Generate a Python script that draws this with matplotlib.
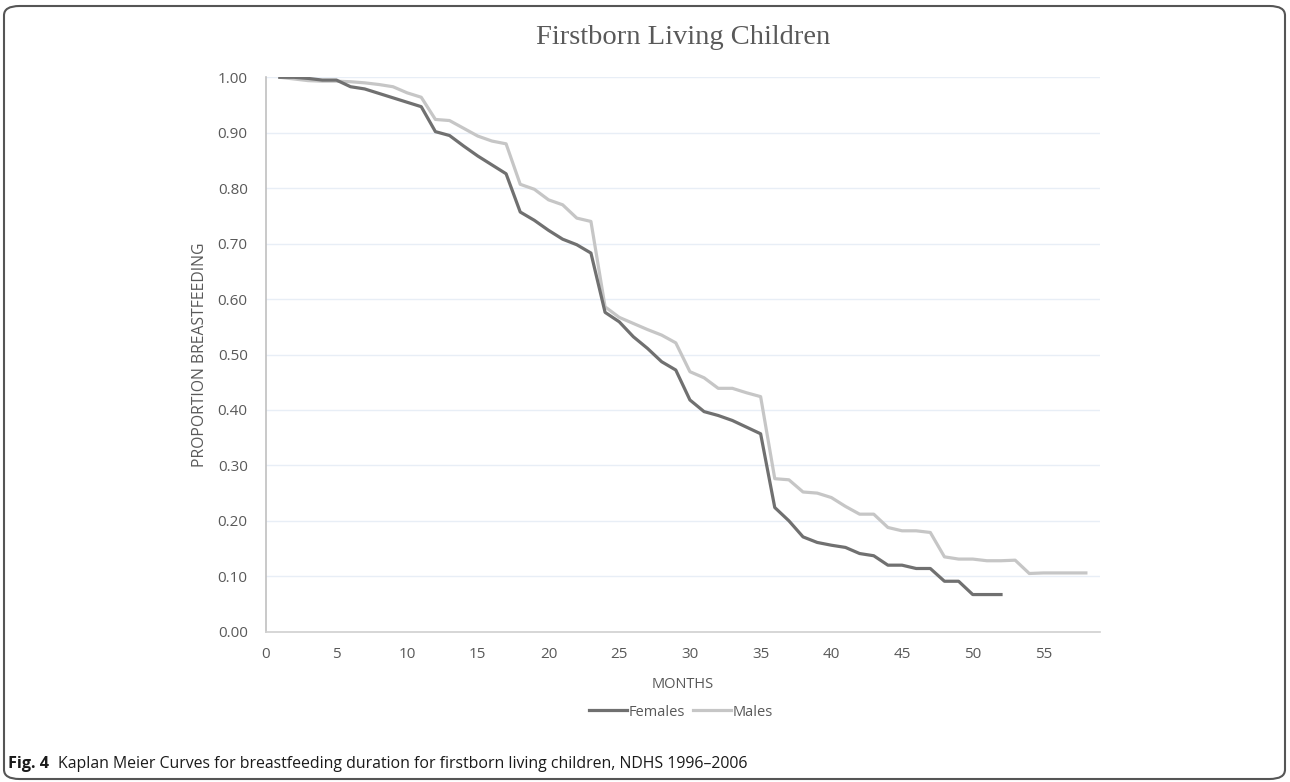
import matplotlib
matplotlib.use("Agg")
import matplotlib.pyplot as plt
from matplotlib.patches import FancyBboxPatch

# Kaplan Meier estimates
months_f = list(range(1, 53))
females = [1.000, 1.000, 0.998, 0.995, 0.995, 0.983, 0.979, 0.971, 0.963, 0.955,
           0.947, 0.902, 0.895, 0.876, 0.858, 0.842, 0.826, 0.757, 0.742, 0.724,
           0.708, 0.698, 0.683, 0.576, 0.559, 0.532, 0.511, 0.487, 0.472, 0.418,
           0.397, 0.390, 0.381, 0.369, 0.357, 0.224, 0.200, 0.171, 0.161, 0.156,
           0.152, 0.141, 0.137, 0.120, 0.120, 0.114, 0.114, 0.091, 0.091, 0.067,
           0.067, 0.067]

months_m = list(range(1, 59))
males = [1.000, 0.997, 0.994, 0.993, 0.993, 0.992, 0.990, 0.987, 0.983, 0.972,
         0.964, 0.924, 0.922, 0.908, 0.894, 0.885, 0.880, 0.807, 0.798, 0.779,
         0.770, 0.746, 0.740, 0.586, 0.567, 0.556, 0.545, 0.535, 0.521, 0.469,
         0.458, 0.439, 0.439, 0.431, 0.424, 0.276, 0.274, 0.252, 0.250, 0.242,
         0.226, 0.212, 0.212, 0.188, 0.182, 0.182, 0.179, 0.135, 0.131, 0.131,
         0.128, 0.128, 0.129, 0.105, 0.106, 0.106, 0.106, 0.106]

x_ticks = list(range(0, 60, 5))
y_ticks = [i / 10 for i in range(11)]

W, H = 1290, 782
fig = plt.figure(figsize=(W / 100, H / 100), dpi=100)
ax = fig.add_axes([265.7 / W, 1 - 631.7 / H, (1100 - 265.7) / W, (631.7 - 77.3) / H])

txt = "#595959"
sans = "Open Sans"

ax.plot(months_f, females, color="#707070", lw=2.3, label="Females", solid_joinstyle="round", zorder=3)
ax.plot(months_m, males, color="#c6c6c6", lw=2.3, label="Males", solid_joinstyle="round", zorder=2)

ax.set_xlim(0, 59)
ax.set_ylim(0, 1)
ax.set_xticks(x_ticks)
ax.set_yticks(y_ticks)
ax.set_yticklabels([f"{v:.2f}" for v in y_ticks])
ax.tick_params(length=0, labelsize=11, labelcolor=txt)
ax.tick_params(axis="y", pad=13)
ax.tick_params(axis="x", pad=11)
for lab in ax.get_xticklabels() + ax.get_yticklabels():
    lab.set_fontfamily(sans)

ax.grid(axis="y", color="#e8eef6", lw=1)
ax.set_axisbelow(True)
for s in ["top", "right"]:
    ax.spines[s].set_visible(False)
ax.spines["left"].set_color("#c0c0c0")
ax.spines["bottom"].set_color("#d0d0d0")
ax.spines["left"].set_linewidth(1.2)
ax.spines["bottom"].set_linewidth(1.2)

fig.text(683 / W, 1 - 38 / H, "Firstborn Living Children", ha="center", va="center",
         fontsize=20.5, family="Liberation Serif", color=txt)
fig.text(683 / W, 1 - 684 / H, "MONTHS", ha="center", va="center", fontsize=10.5,
         family=sans, color=txt)
fig.text(200 / W, 1 - 355 / H, "PROPORTION BREASTFEEDING", ha="center", va="center",
         rotation=90, fontsize=11.3, family=sans, color=txt)

leg = fig.legend(loc="center", bbox_to_anchor=(681 / W, 1 - 712 / H), ncol=2, frameon=False,
                 handlelength=2.6, handletextpad=0.1, columnspacing=0.6,
                 prop={"family": sans, "size": 10.5})
for t in leg.get_texts():
    t.set_color(txt)

# caption with bold figure number
cap_y = 1 - 764 / H
bold = fig.text(8 / W, cap_y, "Fig. 4", ha="left", va="center", fontsize=11.7,
                family=sans, weight="bold", color="#1a1a1a")
fig.canvas.draw()
bb = bold.get_window_extent()
fig.text((bb.x1 + 9) / W, cap_y, "Kaplan Meier Curves for breastfeeding duration for firstborn living children, NDHS 1996\u20132006",
         ha="left", va="center", fontsize=11.4, family=sans, color="#1a1a1a")

# rounded frame around the figure
frame = FancyBboxPatch((4 / W, 3 / H), (W - 9) / W, (H - 9) / H,
                       boxstyle="round,pad=0,rounding_size=0.012", transform=fig.transFigure,
                       fill=False, edgecolor="#555555", lw=1.5)
fig.patches.append(frame)

fig.savefig("out.png", dpi=100)
